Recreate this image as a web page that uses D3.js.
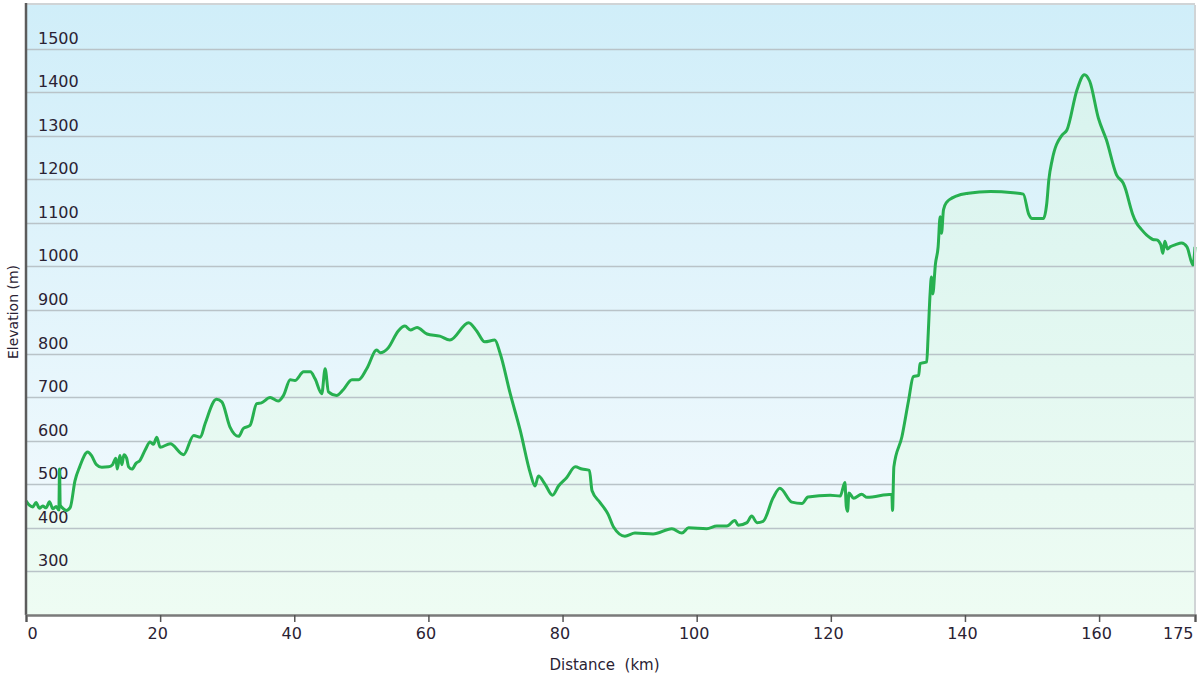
<!DOCTYPE html>
<html>
<head>
<meta charset="utf-8">
<script src="https://cdn.jsdelivr.net/npm/d3@7"></script>
<style>
  body { margin: 0; background: #fff; }
  svg text { font-family: "DejaVu Sans", Verdana, sans-serif; fill: #2a2233; }
</style>
</head>
<body>
<div id="chart"></div>
<script>
// Route profile.
var distanceKm = [
  0.0, 0.5, 1.0, 1.5, 2.0, 2.5, 3.0, 3.5, 4.0, 4.5, 4.9, 5.0, 5.1, 5.5, 6.0, 6.6, 7.3, 8.0, 9.2, 9.8,
  10.5, 11.3, 12.3, 12.9, 13.4, 13.6, 14.0, 14.3, 14.6, 15.0, 15.3, 15.8, 16.4, 17.0, 17.8, 18.5, 19.0, 19.5, 20.0, 21.5,
  23.5, 25.0, 26.0, 26.7, 28.4, 29.2, 30.4, 31.7, 32.4, 33.4, 34.4, 35.1, 36.4, 37.6, 38.4, 39.4, 40.1, 41.4, 42.4, 43.1,
  44.1, 44.6, 45.1, 46.3, 47.3, 48.6, 49.6, 50.8, 52.3, 52.8, 54.0, 55.5, 56.5, 57.3, 58.3, 59.8, 61.7, 63.2, 66.0, 67.2,
  68.4, 69.9, 70.7, 72.2, 73.7, 75.2, 75.9, 76.4, 77.4, 78.5, 79.4, 80.6, 81.9, 82.9, 84.0, 84.4, 85.6, 86.8, 87.6, 89.3,
  90.8, 93.5, 96.3, 97.8, 98.8, 101.5, 103.0, 104.5, 105.7, 106.2, 107.5, 108.2, 109.0, 109.9, 111.4, 112.4, 114.2, 115.7, 116.6, 119.9,
  121.4, 122.1, 122.3, 122.5, 122.7, 123.4, 124.6, 125.4, 129.1, 129.2, 129.4, 130.6, 131.6, 132.3, 133.1, 133.3, 134.3, 134.5, 134.8, 135.0,
  135.2, 135.6, 136.0, 136.3, 136.5, 136.8, 137.2, 138.8, 140.5, 143.8, 147.2, 148.7, 149.5, 150.0, 151.7, 152.2, 152.5, 153.0, 154.5, 155.2,
  156.7, 157.8, 158.6, 159.9, 161.1, 162.6, 163.6, 164.0, 164.4, 165.0, 165.6, 166.3, 167.1, 167.6, 168.0, 168.6, 169.2, 169.5, 169.8, 170.2,
  170.6, 171.4, 172.3, 173.1, 174.0, 174.3
];
var elevationM = [
  462, 452, 448, 458, 445, 450, 446, 460, 444, 449, 441, 535, 452, 445, 440, 447, 508, 540, 574, 565,
  545, 539, 540, 545, 560, 535, 566, 545, 568, 560, 540, 535, 548, 555, 580, 597, 592, 608, 585, 593,
  568, 612, 608, 639, 695, 689, 632, 610, 628, 635, 685, 687, 699, 691, 704, 740, 738, 758, 758, 742,
  708, 765, 712, 704, 717, 740, 740, 765, 808, 802, 813, 852, 863, 854, 860, 845, 840, 831, 871, 852,
  827, 831, 800, 708, 623, 525, 496, 519, 500, 475, 496, 515, 540, 535, 532, 485, 458, 431, 402, 381,
  388, 386, 398, 388, 400, 398, 404, 404, 417, 406, 412, 427, 412, 415, 469, 491, 459, 456, 471, 475,
  473, 504, 450, 438, 480, 468, 477, 470, 477, 440, 540, 609, 693, 747, 750, 777, 781, 838, 937, 976,
  937, 1006, 1045, 1114, 1076, 1130, 1146, 1162, 1168, 1172, 1169, 1166, 1120, 1110, 1110, 1145, 1198, 1244, 1302, 1313,
  1405, 1440, 1425, 1340, 1290, 1210, 1191, 1175, 1152, 1120, 1099, 1085, 1072, 1066, 1062, 1061, 1050, 1030, 1058, 1040,
  1045, 1050, 1054, 1045, 1003, 1045
];

var totalKm = 174.3;
var xTickValues = [0, 20, 40, 60, 80, 100, 120, 140, 160, totalKm];
var xTickLabels = ['0', '20', '40', '60', '80', '100', '120', '140', '160', '175'];
var yTickValues = [300, 400, 500, 600, 700, 800, 900, 1000, 1100, 1200, 1300, 1400, 1500];
var elevRange = [200, 1600];

var fullWidth = 1200, fullHeight = 675;
var margin = {top: 5, right: 5, bottom: 60, left: 26};
var width = fullWidth - margin.left - margin.right;
var height = fullHeight - margin.top - margin.bottom;

var points = distanceKm.map(function(d, i) { return {km: d, elev: elevationM[i]}; });

var svg = d3.select('#chart').append('svg')
    .attr('width', fullWidth)
    .attr('height', fullHeight);

var defs = svg.append('defs');
function vGradient(id, top, bottom) {
    var grad = defs.append('linearGradient')
        .attr('id', id)
        .attr('gradientUnits', 'userSpaceOnUse')
        .attr('x1', 0).attr('y1', 0).attr('x2', 0).attr('y2', height);
    grad.append('stop').attr('offset', '0%').attr('stop-color', top);
    grad.append('stop').attr('offset', '100%').attr('stop-color', bottom);
}
vGradient('bg-grad', '#d0eef9', '#f6fbfe');
vGradient('fill-grad', '#d5f2ee', '#eefcf3');

var g = svg.append('g')
    .attr('transform', 'translate(' + margin.left + ',' + margin.top + ')');

var x = d3.scaleLinear().domain([0, totalKm]).range([0, width]);
var y = d3.scaleLinear().domain(elevRange).range([height, 0]);

// Plot background.
g.append('rect')
    .attr('width', width)
    .attr('height', height)
    .attr('fill', 'url(#bg-grad)');

// Area under the profile.
var area = d3.area()
    .curve(d3.curveMonotoneX)
    .x(function(d) { return x(d.km); })
    .y0(height)
    .y1(function(d) { return y(d.elev); });

g.append('path')
    .datum(points)
    .attr('d', area)
    .attr('fill', 'url(#fill-grad)');

// Horizontal grid with labels sitting on top of each line.
var grid = g.append('g').attr('class', 'grid');
grid.selectAll('line')
    .data(yTickValues)
  .enter().append('line')
    .attr('x1', 0)
    .attr('x2', width)
    .attr('y1', function(d) { return Math.round(y(d)) + 0.5; })
    .attr('y2', function(d) { return Math.round(y(d)) + 0.5; })
    .attr('stroke', '#b9c3c8')
    .attr('stroke-width', 1.5);

grid.selectAll('text')
    .data(yTickValues)
  .enter().append('text')
    .attr('x', 12)
    .attr('y', function(d) { return y(d) - 5; })
    .attr('font-size', 16)
    .text(function(d) { return d; });

// Profile line.
var line = d3.line()
    .curve(d3.curveMonotoneX)
    .x(function(d) { return x(d.km); })
    .y(function(d) { return y(d.elev); });

g.append('path')
    .datum(points)
    .attr('d', line)
    .attr('fill', 'none')
    .attr('stroke', '#27b050')
    .attr('stroke-width', 3)
    .attr('stroke-linejoin', 'round');

// Frame: light top and right, dark left.
g.append('line')
    .attr('x1', 0).attr('x2', width).attr('y1', -1).attr('y2', -1)
    .attr('stroke', '#d0d4d6').attr('stroke-width', 2);
g.append('line')
    .attr('x1', width).attr('x2', width).attr('y1', 0).attr('y2', height)
    .attr('stroke', '#d0d4d6').attr('stroke-width', 2);
g.append('line')
    .attr('x1', 0).attr('x2', 0).attr('y1', -2).attr('y2', height)
    .attr('stroke', '#5c5c5c').attr('stroke-width', 2.5);

// X axis.
var xAxis = d3.axisBottom(x)
    .tickValues(xTickValues)
    .tickSize(7)
    .tickPadding(6)
    .tickFormat(function(d, i) { return xTickLabels[i]; });

var xg = g.append('g')
    .attr('class', 'x-axis')
    .attr('transform', 'translate(0,' + height + ')')
    .call(xAxis);

xg.select('.domain')
    .attr('stroke', '#7a7a7a')
    .attr('stroke-width', 2.5);
xg.selectAll('.tick line')
    .attr('stroke', '#555')
    .attr('stroke-width', 1.5);
xg.selectAll('.tick text')
    .attr('font-size', 16)
    .attr('font-family', '"DejaVu Sans", Verdana, sans-serif')
    .attr('fill', '#2a2233')
    .attr('text-anchor', function(d, i) {
        if (i === 0) return 'start';
        if (i === xTickValues.length - 1) return 'end';
        return 'middle';
    })
    .attr('dx', function(d, i) { return i === 0 ? 1 : (i === xTickValues.length - 1 ? -2 : -3); });

// Axis titles.
g.append('text')
    .attr('x', width / 2 - 6)
    .attr('y', height + 55)
    .attr('text-anchor', 'middle')
    .attr('font-size', 15)
    .attr('xml:space', 'preserve')
    .text('Distance  (km)');

svg.append('text')
    .attr('transform', 'translate(18,' + (margin.top + height / 2 + 2) + ') rotate(-90)')
    .attr('text-anchor', 'middle')
    .attr('font-size', 14)
    .text('Elevation (m)');
</script>
</body>
</html>
